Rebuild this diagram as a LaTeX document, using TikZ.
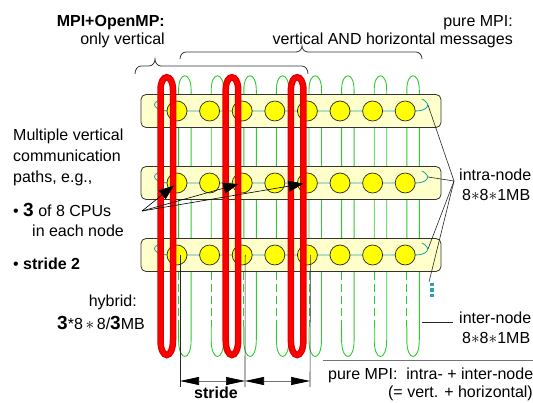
\documentclass[tikz,border=0pt]{standalone}
\usepackage{fontspec}
\setmainfont{Liberation Sans}
\usetikzlibrary{arrows.meta}
\definecolor{smpfill}{HTML}{FFFFCC}
\definecolor{cpufill}{HTML}{FFFF00}
\definecolor{ringteal}{HTML}{2AA5A5}
\definecolor{vgreen}{HTML}{2ECC2E}
\definecolor{hybred}{HTML}{FF0000}
\definecolor{hybreddark}{HTML}{E00000}
\tikzset{
  smpbox/.style={draw=black!80, fill=smpfill, rounded corners=5pt, minimum width=300pt, minimum height=33pt, line width=0.8pt},
  cpu/.style={draw=black!85, fill=cpufill, circle, minimum size=20pt, inner sep=0pt, line width=0.7pt},
  ring/.style={draw=ringteal, line width=0.9pt},
  vloop/.style={draw=vgreen, line width=0.9pt},
  redloop/.style={draw=hybred, line width=4pt, preaction={draw=hybreddark, line width=6.5pt}},
  pointer/.style={-{Triangle[length=15pt,width=11pt]}, line width=0.6pt, shorten >=4pt},
  stridearrow/.style={{Triangle[length=19pt,width=8pt,color=black]}-{Triangle[length=19pt,width=8pt,color=black]}, draw=black!55, line width=0.7pt},
  thinline/.style={draw=black!85, line width=0.6pt},
  brace/.style={draw=black!80, line width=0.8pt},
  txt/.style={inner sep=0pt}
}
\newcommand{\bignum}[1]{{\fontsize{19}{19}\selectfont\bfseries #1}}

\begin{document}
\begin{tikzpicture}[x=1pt, y=-1pt, font=\fontsize{16}{19}\selectfont]
  \useasboundingbox (0,0) rectangle (533,403);

  % vertical rings of pure MPI, behind the nodes
  \foreach \i in {1,...,8} {
    \pgfmathsetmacro{\xl}{146+32.6*\i}
    \pgfmathsetmacro{\xr}{\xl+12.5}
    \draw[vloop] (\xl,272) -- (\xl,90) .. controls (\xl,71) and (\xr,71) .. (\xr,90)
      -- (\xr,340) .. controls (\xr,362) and (\xl,362) .. (\xl,340) -- (\xl,327);
    \draw[vloop, dash pattern=on 8pt off 4pt] (\xl,272) -- (\xl,327);
  }

  % SMP nodes with 8 CPUs each
  \foreach \k/\y in {1/111,2/183,3/255} {
    \node[smpbox] (smp\k) at (291,\y) {};
    \draw[ring] (160,\y-11) .. controls (150,\y-8) and (154,\y) .. (170,\y) -- (415,\y)
      .. controls (428,\y) and (432,\y-7) .. (422,\y-12);
    \coordinate (hook\k) at (428,\y-6);
    \foreach \i in {1,...,8}
      \node[cpu] (c\k\i) at (144.4+32.6*\i,\y) {};
  }

  % hybrid: one vertical path per chosen CPU
  \foreach \i in {1,3,5} {
    \pgfmathsetmacro{\xl}{144.4+32.6*\i-16.5}
    \pgfmathsetmacro{\xr}{\xl+12.5}
    \draw[redloop] (\xl,90) .. controls (\xl,73) and (\xr,73) .. (\xr,90)
      -- (\xr,340) .. controls (\xr,360) and (\xl,360) .. (\xl,340) -- cycle;
  }

  \draw[draw=ringteal, line width=3.5pt, dash pattern=on 3.5pt off 1.8pt] (432,283) -- (432,298);

  % texts
  \node[txt, anchor=base east] (hybhead) at (165,27) {\textbf{MPI+OpenMP:}};
  \node[txt, anchor=base east] (hybsub) at (165,45) {only vertical};
  \node[txt, anchor=base east] (purehead) at (513,27) {pure MPI:};
  \node[txt, anchor=base east] (puresub) at (513,45) {vertical AND horizontal messages};
  \node[txt, anchor=base west] (multi1) at (13,141) {Multiple vertical};
  \node[txt, anchor=base west] (multi2) at (13,162) {communication};
  \node[txt, anchor=base west] (multi3) at (13,183) {paths, e.g.,};
  \node[txt, anchor=base west] (cpus) at (13,217) {\textbullet\ \bignum{3} of 8 CPUs};
  \node[txt, anchor=base west] (cpus2) at (32,237) {in each node};
  \node[txt, anchor=base west] (stridetxt) at (13,270) {\textbullet\ \textbf{stride 2}};
  \node[txt, anchor=base east] (hybrid) at (137,307) {hybrid:};
  \node[txt, anchor=base east] (hybridmb) at (145,330) {\bignum{3}*8\,$\ast$\,8/\bignum{3}MB};
  \node[txt, anchor=base west] (intra) at (459,181) {intra-node};
  \node[txt, anchor=base west] (intramb) at (462,201) {8$\ast$8$\ast$1MB};
  \node[txt, anchor=base west] (inter) at (459,324) {inter-node};
  \node[txt, anchor=base west] (intermb) at (462,344) {8$\ast$8$\ast$1MB};
  \node[txt, anchor=base west] (puremsg) at (328,380) {pure MPI:\ \ intra- + inter-node};
  \node[txt, anchor=base east] (puremsg2) at (533,398) {(= vert. + horizontal)};
  \node[txt, anchor=base] (stridelbl) at (216,399) {\textbf{stride}};

  % braces
  \draw[brace] (135,74) to[out=90,in=180] (141,66) -- (149,66) to[out=0,in=-90] (155,59)
    to[out=-90,in=180] (161,66) -- (302,66) to[out=0,in=90] (308,74);
  \draw[brace] (180,59) to[out=90,in=180] (186,52) -- (296,52) to[out=0,in=-90] (302,46)
    to[out=-90,in=180] (308,52) -- (416,52) to[out=0,in=90] (422,59);

  % pointers
  \coordinate (fan) at (142,211);
  \foreach \i in {1,3,5}
    \draw[pointer] (fan) -- (c2\i.center);
  \coordinate (intrapt) at (454,181);
  \coordinate (more) at (429,282);
  \foreach \k in {1,2,3}
    \draw[thinline] (intrapt) -- (hook\k);
  \draw[thinline] (intrapt) -- (more);
  \coordinate (interpt) at (422,322);
  \draw[thinline, shorten >=6pt] (interpt) -- (interpt -| inter.west);
  \draw[draw=black!55, line width=0.8pt] (323,360) -- (533,360);

  % stride
  \coordinate (sb1) at (180,387);
  \coordinate (sb3) at (245,387);
  \coordinate (sb5) at (310,387);
  \coordinate (sa1) at (180,381);
  \coordinate (sa3) at (245,381);
  \coordinate (sa5) at (310,381);
  \foreach \i in {1,3,5}
    \draw[thinline] ([xshift=3pt]c3\i.center) -- (sb\i);
  \draw[stridearrow] (sa1) -- (sa3);
  \draw[stridearrow] (sa3) -- (sa5);
\end{tikzpicture}
\end{document}
